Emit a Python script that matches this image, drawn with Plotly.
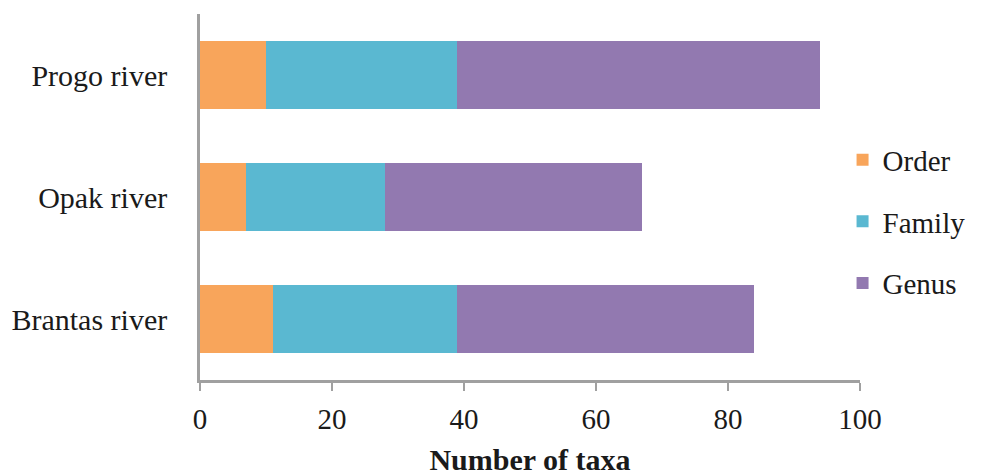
import plotly.graph_objects as go

# Taxa counts per river, split by taxonomic rank
rivers = ["Brantas river", "Opak river", "Progo river"]
order_counts = [11, 7, 10]
family_counts = [28, 21, 29]
genus_counts = [45, 39, 55]

x_ticks = [0, 20, 40, 60, 80, 100]

colors = {"Order": "#F8A55B", "Family": "#5AB8D1", "Genus": "#9279B0"}
serif = "Liberation Serif, Times New Roman, serif"

fig = go.Figure()
for name, vals in [("Order", order_counts), ("Family", family_counts), ("Genus", genus_counts)]:
    fig.add_trace(
        go.Bar(
            y=rivers,
            x=vals,
            name=name,
            orientation="h",
            marker=dict(color=colors[name], line=dict(width=0)),
            legendgroup=name,
        )
    )

fig.update_layout(
    barmode="stack",
    bargap=0.44,
    width=982,
    height=476,
    margin=dict(l=200, r=122, t=14, b=96, autoexpand=False),
    paper_bgcolor="white",
    plot_bgcolor="white",
    font=dict(family=serif, size=29, color="#1a1a1a"),
    showlegend=True,
    legend=dict(
        x=0.858,
        xref="container",
        xanchor="left",
        y=0.534,
        yref="container",
        yanchor="middle",
        traceorder="grouped",
        tracegroupgap=21,
        font=dict(size=29, family=serif, color="#1a1a1a"),
        bgcolor="rgba(0,0,0,0)",
        itemwidth=30,
    ),
    xaxis=dict(
        range=[0, 100],
        tickvals=x_ticks,
        showline=True,
        linecolor="#A0A0A0",
        linewidth=2.5,
        ticks="outside",
        ticklen=8,
        tickwidth=2,
        tickcolor="#A0A0A0",
        showgrid=False,
        zeroline=False,
        automargin=False,
        tickfont=dict(size=29),
        ticklabelstandoff=3,
        title=dict(
            text="<b>Number of taxa</b>",
            font=dict(size=30),
            standoff=20,
        ),
    ),
    yaxis=dict(
        showline=True,
        linecolor="#A0A0A0",
        linewidth=2.5,
        ticks="",
        showgrid=False,
        automargin=False,
        tickfont=dict(size=30),
        ticklabelstandoff=24,
    ),
)

fig.write_html("out.html")
